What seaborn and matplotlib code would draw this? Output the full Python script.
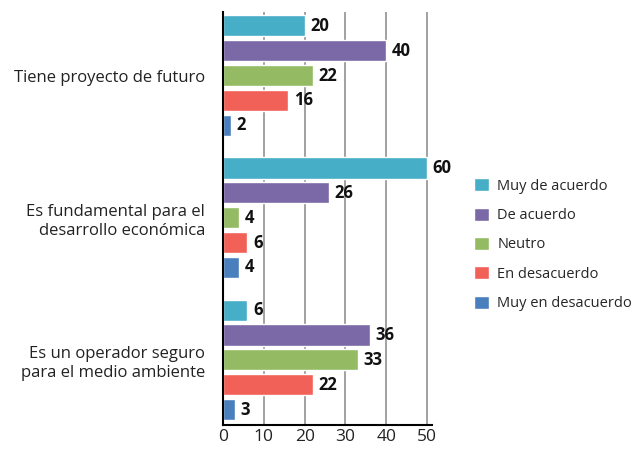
import numpy as np
import pandas as pd
import seaborn as sns
import matplotlib.pyplot as plt

# data
categories = ['Tiene proyecto de futuro',
              'Es fundamental para el\ndesarrollo económica',
              'Es un operador seguro\npara el medio ambiente']
responses = ['Muy de acuerdo', 'De acuerdo', 'Neutro', 'En desacuerdo', 'Muy en desacuerdo']
muy_de_acuerdo = [20, 60, 6]
de_acuerdo = [40, 26, 36]
neutro = [22, 4, 33]
en_desacuerdo = [16, 6, 22]
muy_en_desacuerdo = [2, 4, 3]
colors = ['#46AEC6', '#7B68A6', '#94BB63', '#F16157', '#4A7FBD']

series = [muy_de_acuerdo, de_acuerdo, neutro, en_desacuerdo, muy_en_desacuerdo]
rows = []
for resp, vals in zip(responses, series):
    for cat, v in zip(categories, vals):
        rows.append({'cat': cat, 'resp': resp, 'value': v})
df = pd.DataFrame(rows)
# the axis stops at 50, so longer bars are cut there
df['shown'] = np.minimum(df['value'], 50)

sns.set_style('white')
plt.rcParams['font.family'] = ['Open Sans', 'DejaVu Sans']

fig = plt.figure(figsize=(6.31, 4.49), dpi=100)
ax = fig.add_axes([0.3534, 0.0535, 0.3312, 0.9198])

sns.barplot(data=df, y='cat', x='shown', hue='resp', order=categories,
            hue_order=responses, palette=colors, orient='h',
            width=0.875, gap=0.15, saturation=1, ax=ax, legend=True)

for cont, vals in zip(ax.containers, series):
    ax.bar_label(cont, labels=[str(v) for v in vals], padding=4,
                 fontsize=12, fontweight='bold', color='#111111')

ax.set_xlim(0, 51.2)
ax.set_ylim(2.458, -0.447)
ax.set_xticks([0, 10, 20, 30, 40, 50])
ax.grid(axis='x', color='#9a9a9a', linewidth=1.3)
ax.set_axisbelow(True)
ax.set_xlabel('')
ax.set_ylabel('')
ax.tick_params(axis='both', length=0, colors='#222222')
ax.tick_params(axis='y', pad=13, labelsize=12)
ax.tick_params(axis='x', pad=3, labelsize=12.5)
for lbl in ax.get_yticklabels():
    lbl.set_multialignment('right')
    lbl.set_linespacing(1.25)

sns.despine(ax=ax)
ax.spines['left'].set_linewidth(1.5)
ax.spines['bottom'].set_linewidth(1.5)
ax.spines['left'].set_color('black')
ax.spines['bottom'].set_color('black')

ax.legend(loc='center left', bbox_to_anchor=(0.742, 0.455),
          bbox_transform=fig.transFigure, frameon=False, fontsize=10.5,
          handlelength=1.0, handleheight=1.0, handletextpad=0.6,
          labelspacing=0.95, borderaxespad=0)

fig.savefig('out.png', dpi=100)
